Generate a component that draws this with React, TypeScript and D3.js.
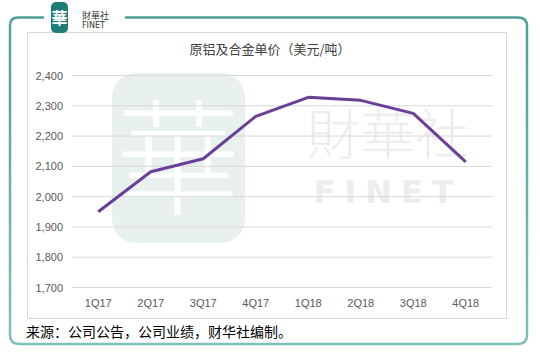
import React from "react";
import * as d3 from "d3";

const categories = ["1Q17", "2Q17", "3Q17", "4Q17", "1Q18", "2Q18", "3Q18", "4Q18"];
const prices = [1950, 2082, 2125, 2265, 2328, 2318, 2275, 2115];
const yTicks = [1700, 1800, 1900, 2000, 2100, 2200, 2300, 2400];
const title = "原铝及合金单价（美元/吨）";
const source = "来源：公司公告，公司业绩，财华社编制。";

export default function App() {
  const W = 540, H = 356;
  const x = d3.scaleBand<string>().domain(categories).range([72, 492]);
  const y = d3.scaleLinear().domain([1700, 2400]).range([287.5, 75.5]);
  const line = d3
    .line<number>()
    .x((_, i) => (x(categories[i]) as number) + x.bandwidth() / 2)
    .y((d) => y(d));
  const font = "'Noto Sans CJK SC', 'Noto Sans', sans-serif";

  return (
    <svg
      width={W}
      height={H}
      style={{ position: "absolute", left: 0, top: 0, background: "#fff" }}
      fontFamily={font}
    >
      <defs>
        <linearGradient id="frameG" x1="0" y1="0" x2="0" y2="1">
          <stop offset="0" stopColor="#4f9f97" />
          <stop offset="1" stopColor="#7fc0bb" />
        </linearGradient>
      </defs>
      {/* outer frame */}
      <path
        d="M 44 17.5 L 18 17.5 Q 10 17.5 10 25.5 L 10 335 Q 10 344 19 344 L 518 344 Q 527 344 527 335 L 527 26 Q 527 17.5 518 17.5 L 125 17.5"
        fill="none"
        stroke="url(#frameG)"
        strokeWidth={2.5}
      />
      {/* inner box */}
      <rect x={27.5} y={32.5} width={479} height={286} fill="#fff" stroke="#d9d9d9" strokeWidth={1} />

      {/* top logo */}
      <rect x={51} y={2} width={17} height={31} rx={5} fill="#1f7d78" />
      <text x={59.5} y={24} textAnchor="middle" fontSize={16} fill="#fff" fontWeight="bold">華</text>
      <text x={82} y={19} fontSize={9} fill="#333">財華社</text>
      <text x={82} y={28} fontSize={8} fill="#333" fontFamily="'DejaVu Sans', sans-serif">FINET</text>

      {/* watermark */}
      <rect x={112} y={73} width={133} height={170} rx={24} fill="#e8f1f0" />
      <text x={178} y={205} textAnchor="middle" fontSize={125} fill="#ffffff" fontWeight={300}>華</text>
      <text x={388} y={155} textAnchor="middle" fontSize={54} fill="#ededed" fontWeight={300}>財華社</text>
      <text x={388} y={203} textAnchor="middle" fontSize={32} fill="#ededed" fontWeight="bold" fontFamily="'DejaVu Sans', sans-serif" letterSpacing={9}>FINET</text>

      {/* gridlines */}
      {yTicks.map((t) => (
        <line key={t} x1={72} x2={492} y1={y(t)} y2={y(t)} stroke="#d9d9d9" strokeWidth={1} />
      ))}
      {/* y labels */}
      {yTicks.map((t) => (
        <text key={"l" + t} x={63} y={y(t) + 4} textAnchor="end" fontSize={11} fill="#595959" fontFamily="'Liberation Sans', Arial, sans-serif">
          {d3.format(",")(t)}
        </text>
      ))}
      {/* x labels */}
      {categories.map((c) => (
        <text key={c} x={(x(c) as number) + x.bandwidth() / 2} y={306.5} textAnchor="middle" fontSize={11} fill="#595959" fontFamily="'Liberation Sans', Arial, sans-serif">
          {c}
        </text>
      ))}
      {/* line */}
      <path d={line(prices) || ""} fill="none" stroke="#6a3f98" strokeWidth={3} strokeLinejoin="round" />

      {/* title */}
      <text x={270} y={54} textAnchor="middle" fontSize={13} fill="#404040">{title}</text>
      {/* source */}
      <text x={26} y={337} fontSize={14} fill="#000">{source}</text>
    </svg>
  );
}
